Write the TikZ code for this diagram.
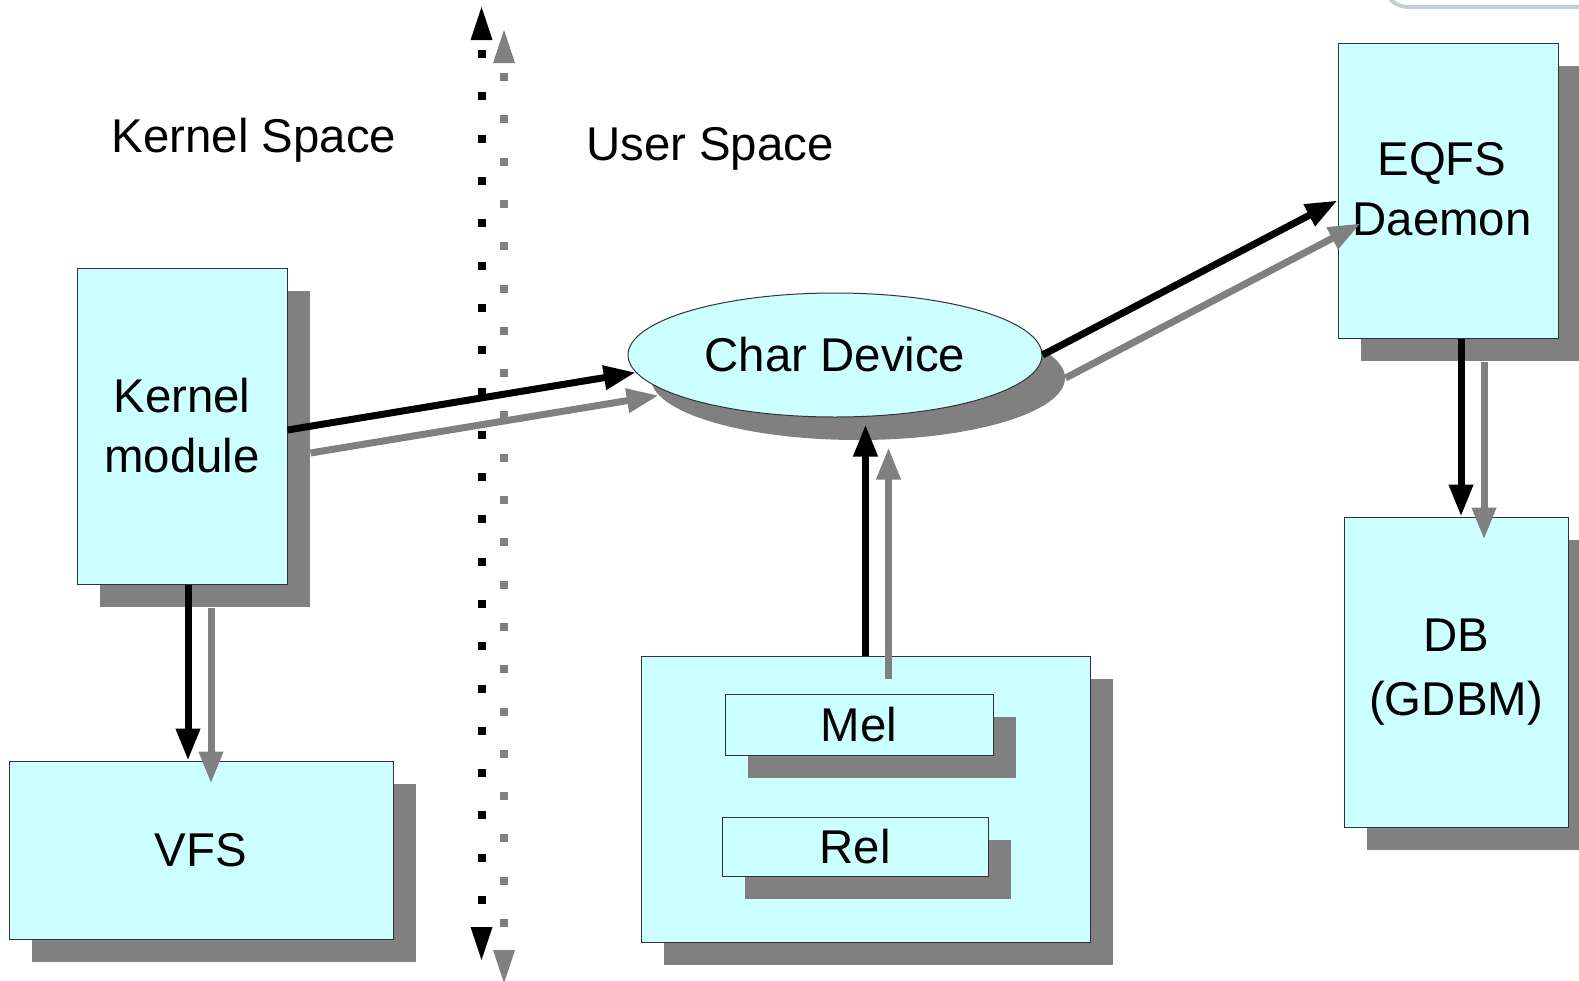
\documentclass[tikz,border=0pt]{standalone}
\usepackage{fontspec}
\setmainfont{Liberation Sans}
\usetikzlibrary{arrows.meta,shapes.geometric,shadows}
\definecolor{boxfill}{HTML}{CCFFFF}
\definecolor{shadowgray}{HTML}{808080}
\definecolor{framegray}{HTML}{C4CCD8}
\begin{document}
\begin{tikzpicture}[x=0.5pt,y=-0.5pt,
	font=\fontsize{23.7}{30}\selectfont,
	box/.style={draw=black!80,line width=0.5pt,fill=boxfill,align=center,inner sep=0pt,
		drop shadow={shadow xshift=11.5pt,shadow yshift=-11.5pt,fill=shadowgray,opacity=1}},
	blk/.style={line width=3.5pt,-{Triangle[width=11.5pt,length=16pt]}},
	gry/.style={blk,shadowgray}]
	\def\sh{23}
	\useasboundingbox (0,0) rectangle (1579,980);
	% corner of a frame at the top right
	\draw[framegray,line width=2pt,rounded corners=12pt] (1384,-30)--(1384,7)--(1640,7);
	% dotted border between kernel and user space
	\foreach\c/\xx/\ya/\yb in {black/481.5/7/960,shadowgray/504/30/983}
	{\fill[\c] (\xx,\ya)--++(-11,33)--++(22,0)--cycle;
		\fill[\c] (\xx,\yb)--++(-11,-33)--++(22,0)--cycle;
		\foreach\i in {0,...,20}
		{\fill[\c] (\xx-4,\ya+43+42.3*\i) rectangle ++(8,8);}}
	\node[anchor=base] (kspace) at (254,152) {Kernel Space};
	\node[anchor=base] (uspace) at (710,160) {User Space};
	% boxes
	\node[box,minimum width=105pt,minimum height=158pt] (km) at (182,426) {Kernel\\module};
	\node[box,minimum width=192pt,minimum height=89pt] (vfs) at (201,850) {VFS};
	\node[box,ellipse,minimum width=207pt,minimum height=62pt] (cd) at (835,355) {Char Device};
	\node[box,minimum width=224.5pt,minimum height=143pt] (cont) at (865.5,799) {};
	\node[box,minimum width=134pt,minimum height=30.5pt] (mel) at (859,724.5) {Mel};
	\node[box,minimum width=133pt,minimum height=29.5pt] (rel) at (855,846.5) {Rel};
	\node[box,minimum width=110pt,minimum height=147.5pt] (eqfs) at (1448,190.5) {};
	\node[align=center] (eqfstxt) at (1442,189) {EQFS\\Daemon};
	\node[box,minimum width=112pt,minimum height=155pt,font=\fontsize{23.7}{32}\selectfont] (db) at (1456,672) {DB\\(GDBM)};
	% arrows, each with its shadow
	\foreach\s/\st in {\sh/gry,0/blk}
	{\draw[\st] ([shift={(\s,\s)},yshift=-2pt]km.east)--([shift={(\s,\s)}]cd.185);
		\draw[\st] ([shift={(\s,\s)}]cd.east)--([shift={(\s,\s)},yshift=-5pt]eqfs.west);
		\draw[\st] ([shift={(\s,\s)}]cont.north)--([shift={(\s,\s)},yshift=-3.5pt]cont.north|-cd.south);
		\draw[\st] ([shift={(\s,\s)},xshift=6.5pt]eqfs.south)--([shift={(\s,\s)},xshift=6.5pt]eqfs.south|-db.north);
		\draw[\st] ([shift={(\s,\s)},xshift=3pt]km.south)--([shift={(\s,\s)},xshift=3pt]km.south|-vfs.north);}
\end{tikzpicture}
\end{document}
